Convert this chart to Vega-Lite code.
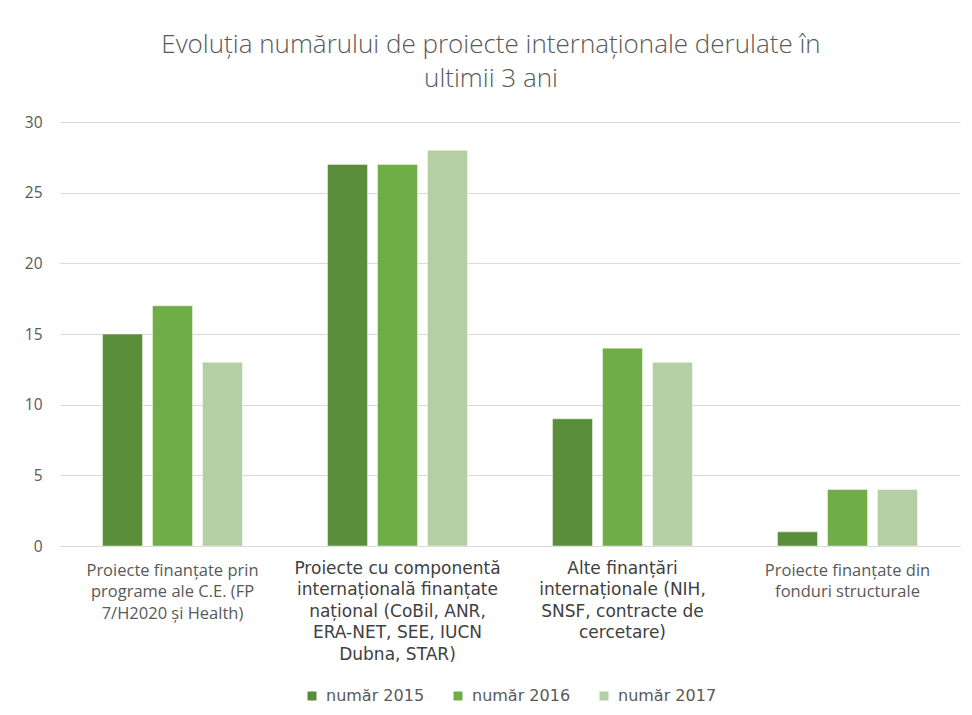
{
  "$schema": "https://vega.github.io/schema/vega-lite/v6.json",
  "autosize": {"type": "none"},
  "width": 900,
  "height": 424,
  "padding": {"left": 60, "top": 122, "right": 12, "bottom": 169},
  "background": "white",
  "title": {
    "text": ["Evoluția numărului de proiecte internaționale derulate în", "ultimii 3 ani"],
    "font": "Open Sans",
    "fontSize": 26,
    "fontWeight": 300,
    "color": "#595959",
    "lineHeight": 34,
    "anchor": "middle",
    "dx": -19,
    "offset": 23
  },
  "data": {
    "values": [
      {"categorie": "Proiecte finanțate prin programe ale C.E. (FP 7/H2020 și Health)", "serie": "număr 2015", "valoare": 15},
      {"categorie": "Proiecte finanțate prin programe ale C.E. (FP 7/H2020 și Health)", "serie": "număr 2016", "valoare": 17},
      {"categorie": "Proiecte finanțate prin programe ale C.E. (FP 7/H2020 și Health)", "serie": "număr 2017", "valoare": 13},
      {"categorie": "Proiecte cu componentă internațională finanțate național (CoBil, ANR, ERA-NET, SEE, IUCN Dubna, STAR)", "serie": "număr 2015", "valoare": 27},
      {"categorie": "Proiecte cu componentă internațională finanțate național (CoBil, ANR, ERA-NET, SEE, IUCN Dubna, STAR)", "serie": "număr 2016", "valoare": 27},
      {"categorie": "Proiecte cu componentă internațională finanțate național (CoBil, ANR, ERA-NET, SEE, IUCN Dubna, STAR)", "serie": "număr 2017", "valoare": 28},
      {"categorie": "Alte finanțări internaționale (NIH, SNSF, contracte de cercetare)", "serie": "număr 2015", "valoare": 9},
      {"categorie": "Alte finanțări internaționale (NIH, SNSF, contracte de cercetare)", "serie": "număr 2016", "valoare": 14},
      {"categorie": "Alte finanțări internaționale (NIH, SNSF, contracte de cercetare)", "serie": "număr 2017", "valoare": 13},
      {"categorie": "Proiecte finanțate din fonduri structurale", "serie": "număr 2015", "valoare": 1},
      {"categorie": "Proiecte finanțate din fonduri structurale", "serie": "număr 2016", "valoare": 4},
      {"categorie": "Proiecte finanțate din fonduri structurale", "serie": "număr 2017", "valoare": 4}
    ]
  },
  "mark": {"type": "bar", "stroke": "#ffffff", "strokeWidth": 1, "strokeOpacity": 0.45},
  "encoding": {
    "x": {
      "field": "categorie",
      "type": "nominal",
      "sort": null,
      "scale": {"paddingInner": 0.378, "paddingOuter": 0.189},
      "axis": {
        "title": null,
        "labelAngle": 0,
        "ticks": false,
        "domain": true,
        "domainColor": "#d9d9d9",
        "labelBaseline": "top",
        "labelLimit": 300,
        "labelLineHeight": 21.5,
        "labelExpr": "indexof(datum.value, 'Proiecte finanțate prin') == 0 ? ['Proiecte finanțate prin', 'programe ale C.E. (FP', '7/H2020 și Health)'] : indexof(datum.value, 'Proiecte cu') == 0 ? ['Proiecte cu componentă', 'internațională finanțate', 'național (CoBil, ANR,', 'ERA-NET, SEE, IUCN', 'Dubna, STAR)'] : indexof(datum.value, 'Alte') == 0 ? ['Alte finanțări', 'internaționale (NIH,', 'SNSF, contracte de', 'cercetare)'] : ['Proiecte finanțate din', 'fonduri structurale']",
        "labelFont": {"condition": {"test": "indexof(datum.value, 'Proiecte finanțate') == 0", "value": "Open Sans"}, "value": "DejaVu Sans"},
        "labelFontSize": {"condition": {"test": "indexof(datum.value, 'Proiecte finanțate') == 0", "value": 16.5}, "value": 17},
        "labelPadding": {"condition": {"test": "indexof(datum.value, 'Proiecte finanțate') == 0", "value": 16}, "value": 14},
        "labelColor": {"condition": {"test": "indexof(datum.value, 'Proiecte finanțate') == 0", "value": "#595959"}, "value": "#404040"}
      }
    },
    "xOffset": {
      "field": "serie",
      "type": "nominal",
      "scale": {"paddingInner": 0.2, "paddingOuter": 0}
    },
    "y": {
      "field": "valoare",
      "type": "quantitative",
      "scale": {"domain": [0, 30], "nice": false},
      "axis": {
        "title": null,
        "values": [0, 5, 10, 15, 20, 25, 30],
        "domain": false,
        "ticks": false,
        "grid": true,
        "gridColor": "#d9d9d9",
        "gridWidth": 1,
        "labelFont": "Open Sans",
        "labelFontSize": 15.5,
        "labelColor": "#595959",
        "labelPadding": 18
      }
    },
    "color": {
      "field": "serie",
      "type": "nominal",
      "scale": {"domain": ["număr 2015", "număr 2016", "număr 2017"], "range": ["#5b8e3a", "#70ad47", "#b5cfa5"]},
      "legend": {
        "title": null,
        "orient": "bottom",
        "direction": "horizontal",
        "symbolType": "square",
        "symbolSize": 81,
        "symbolStrokeWidth": 0,
        "labelFont": "DejaVu Sans",
        "labelFontSize": 16,
        "labelColor": "#595959",
        "labelOffset": 6,
        "columnPadding": 25,
        "offset": 26
      }
    }
  },
  "config": {
    "view": {"stroke": null},
    "legend": {"layout": {"bottom": {"anchor": "middle"}}}
  }
}
